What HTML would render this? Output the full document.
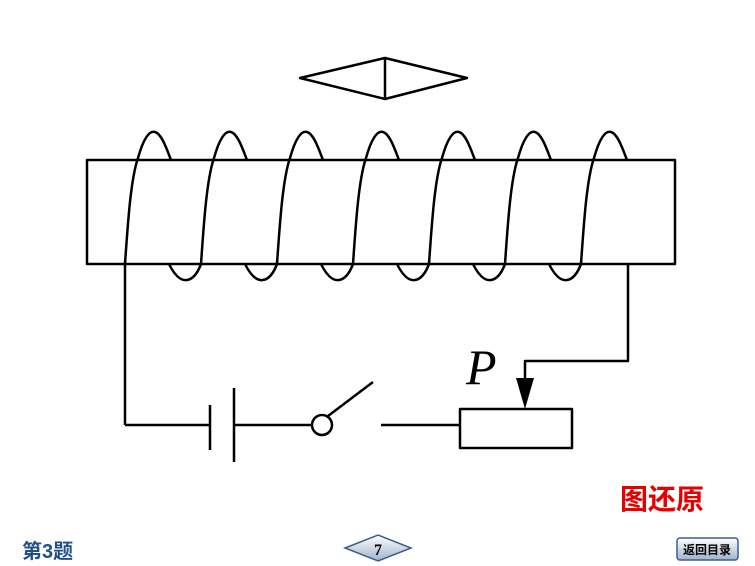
<!DOCTYPE html>
<html><head><meta charset="utf-8"><style>
body{margin:0;width:755px;height:566px;background:#fff;overflow:hidden;position:relative;font-family:"Liberation Sans","Noto Sans CJK SC",sans-serif}
.t{position:absolute}
</style></head><body>
<svg width="755" height="566" style="position:absolute;left:0;top:0">
<g fill="none" stroke="#000" stroke-width="2.5" stroke-linejoin="round">
<rect x="87" y="160" width="588" height="104"/>
<path d="M300,78 L385,58 L467,78 L385,99 Z M385,58 L385,99"/>
<g id="coils">
</g>
<path d="M125,425 L125,264"/>
<path d="M125,425 L210,425 M210,405 L210,450 M234,388 L234,462 M234,425 L312,425"/>
<circle cx="322" cy="425" r="10"/>
<path d="M328,416 L373,382"/>
<path d="M381,425 L460,425"/>
<rect x="460" y="409" width="112" height="39"/>
<path d="M628,264 L628,361 L525,361 L525,385"/>
</g>
<path d="M516,378 L534,378 L525,409 Z" fill="#000"/>
<text x="466" y="384" font-family="Liberation Serif,serif" font-style="italic" font-size="50">P</text>
<defs><linearGradient id="g" x1="0" y1="0" x2="0" y2="1"><stop offset="0" stop-color="#fff"/><stop offset="1" stop-color="#9fb3cc"/></linearGradient></defs>
<path d="M345,548 L378,535 L411,548 L378,561 Z" fill="url(#g)" stroke="#3a5f8e" stroke-width="1.5"/>
<text x="378" y="555" text-anchor="middle" font-family="Liberation Serif,serif" font-weight="bold" font-size="16">7</text>
<rect x="677" y="538" width="61" height="22" rx="3" fill="url(#g)" stroke="#3a5f8e" stroke-width="1.5"/>
<text x="707" y="554" text-anchor="middle" font-size="12" font-weight="bold" font-family="Liberation Sans,Noto Sans CJK SC,sans-serif">返回目录</text>
</svg>
<div class="t" style="left:620px;top:478px;color:#e60000;font-size:28px;font-weight:bold">图还原</div>
<div class="t" style="left:22px;top:535px;color:#1f4f8a;font-size:20px;font-weight:bold">第3题</div>
<script>
var g=document.getElementById('coils'),s='';
for(var i=0;i<7;i++){var x=125+76*i;
s+='<path d="M'+x+',264 C'+(x+3)+',220 '+(x+6)+',178 '+(x+13)+',158 C'+(x+18)+',140 '+(x+24)+',130 '+(x+30)+',132 C'+(x+37)+',134 '+(x+42)+',150 '+(x+46)+',160"/>';
if(i<6)s+='<path d="M'+(x+44)+',264 C'+(x+50)+',276 '+(x+56)+',281 '+(x+62)+',280 C'+(x+69)+',279 '+(x+73)+',272 '+(x+76)+',264"/>';}
g.innerHTML=s;
</script>
</body></html>
